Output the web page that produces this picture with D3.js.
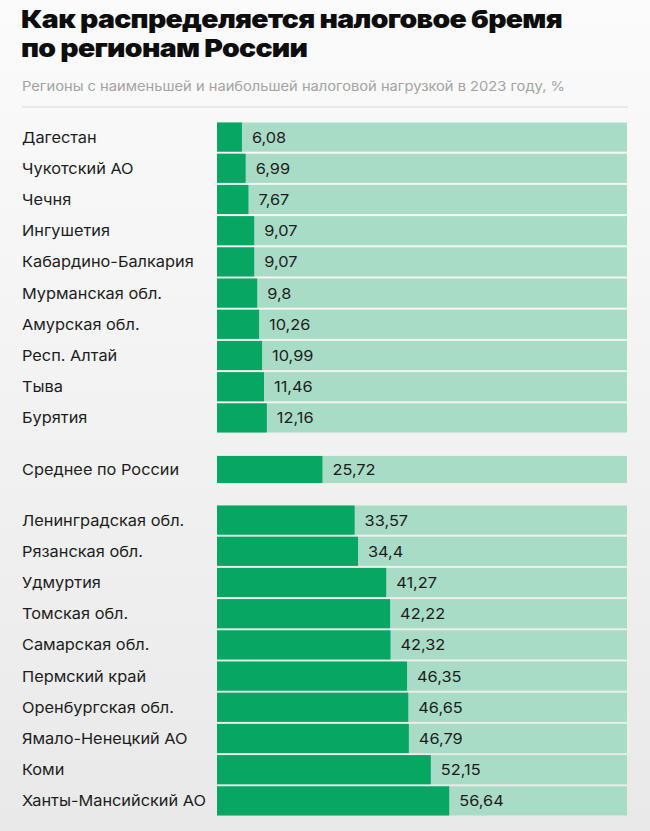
<!DOCTYPE html>
<html><head><meta charset="utf-8">
<script src="https://cdn.jsdelivr.net/npm/d3@7"></script>
<style>
html,body{margin:0;padding:0;}
body{width:650px;height:831px;overflow:hidden;}
</style></head>
<body>
<svg id="chart" width="650" height="831"></svg>
<script>
const titleLines = ["Как распределяется налоговое бремя", "по регионам России"];
const subtitle = "Регионы с наименьшей и наибольшей налоговой нагрузкой в 2023 году, %";

const lowRegions = ["Дагестан","Чукотский АО","Чечня","Ингушетия","Кабардино-Балкария","Мурманская обл.","Амурская обл.","Респ. Алтай","Тыва","Бурятия"];
const lowValues = [6.08, 6.99, 7.67, 9.07, 9.07, 9.8, 10.26, 10.99, 11.46, 12.16];

const avgLabel = ["Среднее по России"];
const avgValue = [25.72];

const highRegions = ["Ленинградская обл.","Рязанская обл.","Удмуртия","Томская обл.","Самарская обл.","Пермский край","Оренбургская обл.","Ямало-Ненецкий АО","Коми","Ханты-Мансийский АО"];
const highValues = [33.57, 34.4, 41.27, 42.22, 42.32, 46.35, 46.65, 46.79, 52.15, 56.64];

const domainMax = 100;

const svg = d3.select("#chart");
const W = 650, H = 831;

const defs = svg.append("defs");
const grad = defs.append("linearGradient").attr("id","bg").attr("x1",0).attr("y1",0).attr("x2",0).attr("y2",1);
grad.append("stop").attr("offset","0%").attr("stop-color","#fbfbfb");
grad.append("stop").attr("offset","100%").attr("stop-color","#e9e9e9");
svg.append("rect").attr("width",W).attr("height",H).attr("fill","url(#bg)");

const x = d3.scaleLinear().domain([0, domainMax]).range([217, 627]);

const FONT = "Inter, 'Liberation Sans', Arial, sans-serif";

function stretch(sel, refNode, target){
  const r = target / refNode.getComputedTextLength();
  sel.each(function(){
    const w = this.getComputedTextLength();
    d3.select(this).attr("textLength", w * r).attr("lengthAdjust", "spacingAndGlyphs");
  });
}

const titles = svg.append("g").selectAll("text").data(titleLines).join("text")
  .attr("x", 21).attr("y", (d,i) => 28 + i*29)
  .attr("font-family", FONT).attr("font-weight", 900).attr("font-size", 25)
  .attr("letter-spacing", -0.6)
  .attr("fill", "#0d0d0d").text(d => d);
stretch(titles, titles.node(), 541);

const sub = svg.append("text").attr("x", 22).attr("y", 91)
  .attr("font-family", FONT).attr("font-size", 13.5).attr("fill", "#a3a3a3").text(subtitle);
stretch(sub, sub.node(), 543);

svg.append("line").attr("x1", 22).attr("x2", 628).attr("y1", 107).attr("y2", 107)
  .attr("stroke", "#dcdcdc").attr("stroke-width", 1.2);

function fmt(v){ return String(v).replace(".", ","); }

const LABEL_SIZE = 15;

function drawGroup(names, values, r0, r1){
  const y = d3.scaleBand().domain(names).range([r0, r1]).paddingInner(0.065).paddingOuter(0);
  const data = names.map((n,i) => ({name:n, value:values[i]}));
  const g = svg.append("g");
  const rows = g.selectAll("g").data(data).join("g");
  rows.append("rect").attr("x", x(0)).attr("width", x(domainMax) - x(0))
    .attr("y", d => y(d.name)).attr("height", y.bandwidth()).attr("fill", "#a9dcc6");
  rows.append("rect").attr("x", x(0)).attr("width", d => x(d.value) - x(0))
    .attr("y", d => y(d.name)).attr("height", y.bandwidth()).attr("fill", "#07a763");
  rows.append("text").attr("class","val").attr("x", d => x(d.value) + 10).attr("y", d => y(d.name) + y.bandwidth()/2 + 5.5)
    .attr("font-family", FONT).attr("font-size", LABEL_SIZE).attr("fill", "#1d1d1d").text(d => fmt(d.value));
  rows.append("text").attr("class","lab").attr("x", 22).attr("y", d => y(d.name) + y.bandwidth()/2 + 5.5)
    .attr("font-family", FONT).attr("font-size", LABEL_SIZE).attr("fill", "#1d1d1d").text(d => d.name);
}

drawGroup(lowRegions, lowValues, 122.5, 432.5);
drawGroup(avgLabel, avgValue, 455, 484);
drawGroup(highRegions, highValues, 505.5, 815.5);

const refLab = svg.selectAll("text.lab").filter(function(){ return this.textContent === "Ханты-Мансийский АО"; }).node();
stretch(svg.selectAll("text.lab, text.val"), refLab, 184);
</script>
</body></html>
